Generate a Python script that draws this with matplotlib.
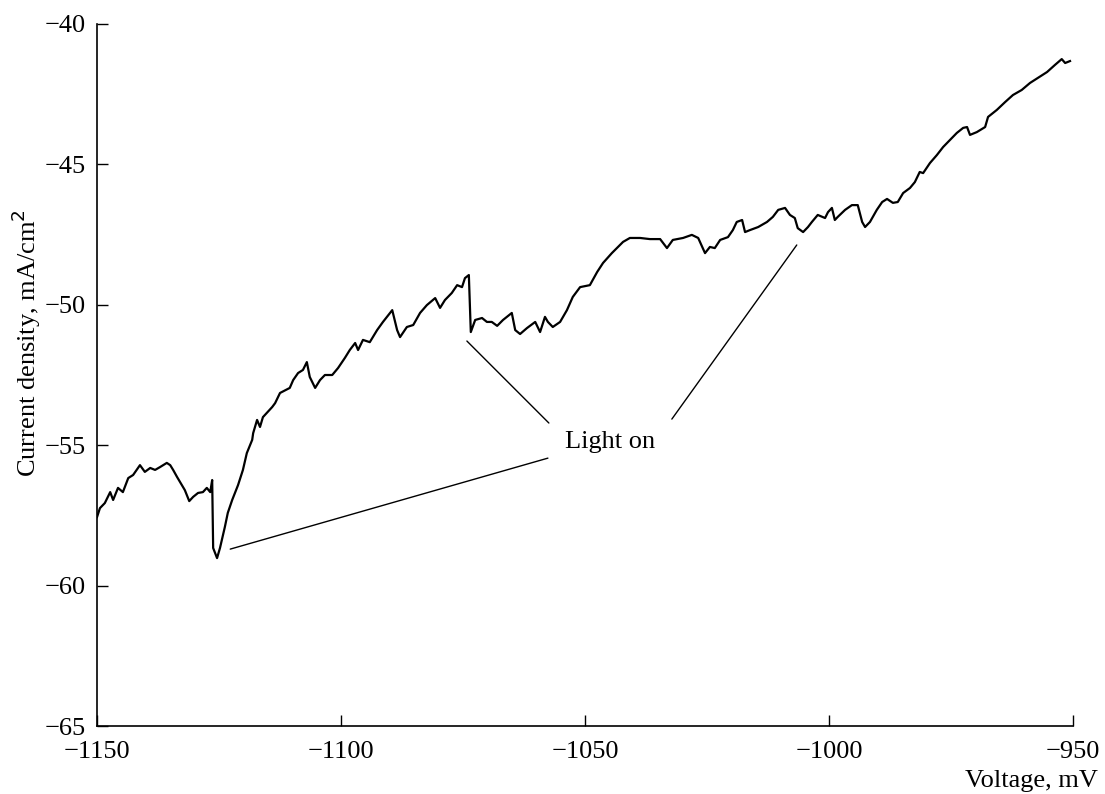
"""Cathodic polarization curve with light switched on during the sweep."""
import matplotlib
matplotlib.use("Agg")
import matplotlib.pyplot as plt

# Sweep data: potential (mV) and current density (mA/cm^2)
voltage = [
    -1150.0, -1149.4, -1148.4, -1147.3, -1146.7, -1145.7, -1144.7, -1143.6,
    -1142.6, -1141.2, -1140.2, -1139.1, -1138.1, -1137.1, -1135.7, -1135.0,
    -1134.4, -1133.6, -1132.6, -1132.0, -1131.1, -1130.3, -1129.3, -1128.3,
    -1127.5, -1126.8, -1126.4, -1126.2, -1125.4, -1124.8, -1123.8, -1123.2,
    -1122.3, -1121.1, -1120.1, -1119.3, -1118.2, -1118.0, -1117.2, -1116.6,
    -1116.0, -1114.1, -1113.5, -1112.5, -1110.5, -1109.8, -1108.8, -1107.8,
    -1107.0, -1106.4, -1105.3, -1104.3, -1103.3, -1101.8, -1100.6, -1099.2,
    -1098.2, -1097.1, -1096.5, -1095.5, -1094.1, -1092.6, -1091.4, -1089.5,
    -1088.5, -1087.9, -1086.5, -1085.2, -1083.8, -1082.4, -1080.7, -1079.7,
    -1078.7, -1077.3, -1076.2, -1075.2, -1074.6, -1073.8, -1073.4, -1072.5,
    -1071.1, -1070.1, -1069.1, -1068.0, -1066.8, -1065.0, -1064.3, -1063.3,
    -1061.9, -1060.2, -1059.2, -1058.2, -1057.6, -1056.6, -1055.1, -1053.7,
    -1052.5, -1051.0, -1049.0, -1047.5, -1046.3, -1044.5, -1042.2, -1040.8,
    -1038.7, -1036.7, -1034.6, -1033.2, -1032.0, -1029.9, -1028.1, -1026.8,
    -1025.4, -1024.4, -1023.4, -1022.3, -1020.7, -1019.7, -1018.9, -1017.8,
    -1017.2, -1016.2, -1014.5, -1012.7, -1011.5, -1010.4, -1009.0, -1008.0,
    -1007.0, -1006.4, -1005.3, -1004.3, -1003.5, -1002.3, -1000.8, -1000.2,
    -999.4, -998.8, -998.2, -996.7, -995.3, -994.1, -993.2, -992.6,
    -991.6, -990.2, -989.1, -988.1, -986.9, -985.9, -984.8, -983.4,
    -982.4, -981.4, -980.7, -979.3, -977.9, -976.6, -975.2, -973.8,
    -972.5, -971.7, -971.1, -969.7, -968.0, -967.4, -965.6, -963.9,
    -962.3, -960.5, -958.8, -957.2, -955.3, -953.7, -952.3, -951.6,
    -950.6,
]
current = [
    -57.56, -57.24, -57.06, -56.67, -56.95, -56.52, -56.67, -56.17,
    -56.06, -55.71, -55.95, -55.81, -55.88, -55.78, -55.63, -55.71,
    -55.88, -56.13, -56.42, -56.60, -56.99, -56.84, -56.70, -56.67,
    -56.52, -56.67, -56.24, -58.66, -59.02, -58.66, -57.91, -57.41,
    -56.95, -56.42, -55.88, -55.28, -54.81, -54.57, -54.10, -54.35,
    -54.00, -53.64, -53.50, -53.14, -52.96, -52.68, -52.43, -52.32,
    -52.04, -52.57, -52.96, -52.68, -52.50, -52.50, -52.25, -51.89,
    -51.61, -51.36, -51.61, -51.25, -51.33, -50.90, -50.61, -50.19,
    -50.90, -51.15, -50.79, -50.72, -50.29, -50.01, -49.76, -50.11,
    -49.83, -49.58, -49.30, -49.37, -49.05, -48.94, -50.97, -50.54,
    -50.47, -50.61, -50.61, -50.75, -50.54, -50.29, -50.90, -51.04,
    -50.83, -50.61, -50.97, -50.43, -50.61, -50.79, -50.61, -50.19,
    -49.72, -49.37, -49.30, -48.83, -48.51, -48.16, -47.76, -47.62,
    -47.62, -47.66, -47.66, -47.98, -47.69, -47.62, -47.51, -47.62,
    -48.16, -47.94, -47.98, -47.69, -47.59, -47.34, -47.05, -46.98,
    -47.41, -47.34, -47.23, -47.05, -46.87, -46.62, -46.55, -46.80,
    -46.91, -47.27, -47.41, -47.23, -47.05, -46.80, -46.91, -46.70,
    -46.55, -46.98, -46.87, -46.62, -46.45, -46.45, -47.05, -47.23,
    -47.05, -46.62, -46.34, -46.23, -46.37, -46.34, -46.02, -45.84,
    -45.63, -45.27, -45.31, -44.95, -44.67, -44.38, -44.13, -43.88,
    -43.70, -43.67, -43.95, -43.85, -43.67, -43.31, -43.06, -42.78,
    -42.53, -42.35, -42.10, -41.92, -41.71, -41.46, -41.25, -41.39,
    -41.32,
]

# Points where the light was switched on, and where each leader starts
light_on_points = [(-1122.7, -58.70), (-1074.2, -51.29), (-1006.6, -47.87)]
leader_starts = [(-1057.6, -55.46), (-1057.4, -54.21), (-1032.2, -54.07)]
label_pos = (-1044.9, -54.89)

x_ticks = [-1150, -1100, -1050, -1000, -950]
y_ticks = [-65, -60, -55, -50, -45, -40]

plt.rcParams["font.family"] = ["Liberation Serif", "DejaVu Serif"]
plt.rcParams["font.size"] = 19

fig = plt.figure(figsize=(11.05, 7.94), dpi=100)
ax = fig.add_axes([0.0878, 0.0856, 0.8832, 0.8842])

ax.plot(voltage, current, color="black", linewidth=1.6)

for pt, start in zip(light_on_points, leader_starts):
    ax.annotate(
        "", xy=pt, xytext=start,
        arrowprops=dict(arrowstyle="-", color="black", linewidth=1.0,
                        shrinkA=0, shrinkB=0),
    )
ax.text(label_pos[0], label_pos[1], "Light on", ha="center", va="center")

ax.set_xlim(-1150, -950)
ax.set_ylim(-65, -40)
ax.set_xticks(x_ticks)
ax.set_yticks(y_ticks)
ax.tick_params(direction="in", length=8, width=1.0, pad=8)
ax.tick_params(axis="x", pad=11)
ax.spines["top"].set_visible(False)
ax.spines["right"].set_visible(False)
for side in ("left", "bottom"):
    ax.spines[side].set_linewidth(1.2)

ax.set_ylabel("Current density, mA/cm$^2$")
ax.yaxis.set_label_coords(-0.055, 0.545)
ax.set_xlabel("Voltage, mV", ha="right")
ax.xaxis.set_label_coords(1.026, -0.062)

fig.savefig("out.png", dpi=100)
